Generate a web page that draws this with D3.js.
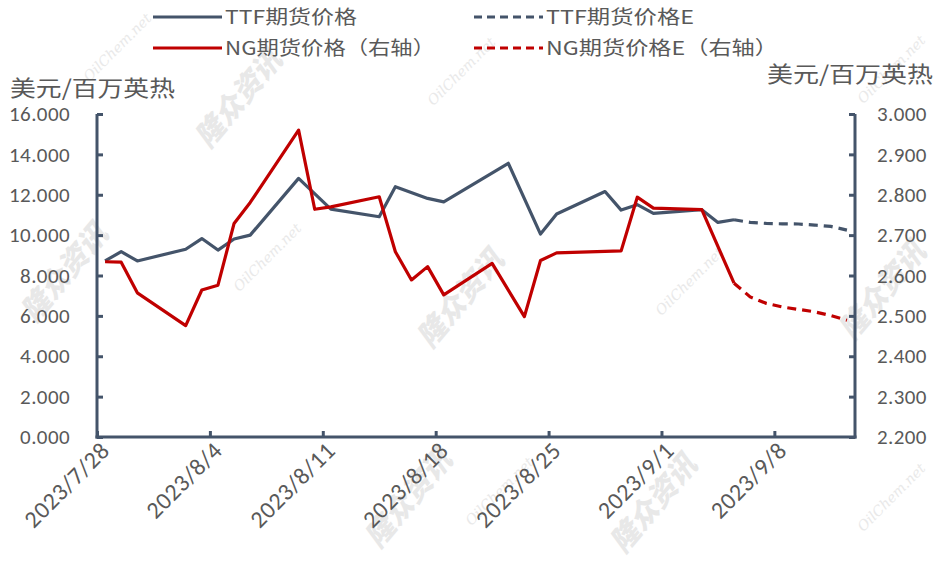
<!DOCTYPE html>
<html>
<head>
<meta charset="utf-8">
<script src="https://cdn.jsdelivr.net/npm/d3@7"></script>
<style>
  html, body { margin: 0; padding: 0; background: #ffffff; }
  svg { display: block; }
</style>
</head>
<body>
<svg id="chart" width="940" height="565"></svg>
<script>
// ---------------- data ----------------
const ttfDates = ["2023-07-28","2023-07-29","2023-07-30","2023-08-02","2023-08-03","2023-08-04","2023-08-05","2023-08-06",
  "2023-08-09","2023-08-11","2023-08-14","2023-08-15","2023-08-17","2023-08-18","2023-08-22","2023-08-24","2023-08-25",
  "2023-08-28","2023-08-29","2023-08-30","2023-08-31","2023-09-03","2023-09-04","2023-09-05"];
const ttfValues = [8.72, 9.18, 8.72, 9.30, 9.83, 9.26, 9.81, 10.00,
  12.81, 11.29, 10.91, 12.40, 11.82, 11.65, 13.56, 10.05, 11.05,
  12.16, 11.24, 11.51, 11.08, 11.26, 10.63, 10.76];

const ngDates = ["2023-07-28","2023-07-29","2023-07-30","2023-08-02","2023-08-03","2023-08-04","2023-08-05","2023-08-06",
  "2023-08-09","2023-08-10","2023-08-11","2023-08-14","2023-08-15","2023-08-16","2023-08-17","2023-08-18",
  "2023-08-21","2023-08-23","2023-08-24","2023-08-25","2023-08-29","2023-08-30","2023-08-31","2023-09-03","2023-09-05"];
const ngValues = [2.634, 2.633, 2.557, 2.476, 2.564, 2.576, 2.729, 2.781,
  2.960, 2.764, 2.770, 2.795, 2.659, 2.589, 2.622, 2.552,
  2.630, 2.498, 2.637, 2.656, 2.661, 2.794, 2.767, 2.763, 2.581];

const ttfEDates = ["2023-09-05","2023-09-06","2023-09-07","2023-09-08","2023-09-09","2023-09-10","2023-09-11","2023-09-12"];
const ttfEValues = [10.76, 10.63, 10.58, 10.56, 10.55, 10.50, 10.43, 10.25];

const ngEDates = ["2023-09-05","2023-09-06","2023-09-07","2023-09-08","2023-09-09","2023-09-10","2023-09-11","2023-09-12"];
const ngEValues = [2.581, 2.547, 2.531, 2.522, 2.516, 2.510, 2.501, 2.489];

const xTickDates = ["2023-07-28","2023-08-04","2023-08-11","2023-08-18","2023-08-25","2023-09-01","2023-09-08"];
const leftTicks = [0, 2, 4, 6, 8, 10, 12, 14, 16];
const rightTicks = [2.2, 2.3, 2.4, 2.5, 2.6, 2.7, 2.8, 2.9, 3.0];

const unitLabel = "美元/百万英热";
const legendNames = ["TTF期货价格", "TTF期货价格E", "NG期货价格（右轴）", "NG期货价格E（右轴）"];

// ---------------- setup ----------------
const axisColor = "#44546a";
const blue = "#44546a";
const red = "#c00000";
const textColor = "#595959";
const numFont = "Carlito, Lato, 'Noto Sans', sans-serif";
const cjkFont = "'Noto Sans CJK SC', 'Noto Sans', sans-serif";

const svg = d3.select("#chart");
const parse = d3.utcParse("%Y-%m-%d");
const mid = s => d3.utcHour.offset(parse(s), 12);

const pLeft = 97, pRight = 855, pTop = 114, pBottom = 437;

const x = d3.scaleUtc()
  .domain([parse("2023-07-28"), parse("2023-09-13")])
  .range([pLeft, pRight]);
const yL = d3.scaleLinear().domain([0, 16]).range([pBottom, pTop]);
const yR = d3.scaleLinear().domain([2.2, 3.0]).range([pBottom, pTop]);

// ---------------- watermarks ----------------
const wm = svg.append("g").attr("pointer-events", "none");
const wmCn = [[240, 100], [66, 274], [462, 300], [410, 500], [655, 505], [884, 292]];
wmCn.forEach(([cx, cy]) => {
  wm.append("text")
    .attr("transform", `translate(${cx},${cy}) rotate(-50)`)
    .attr("text-anchor", "middle").attr("dominant-baseline", "middle")
    .attr("font-family", cjkFont).attr("font-weight", 900).attr("font-style", "italic")
    .attr("font-size", 29).attr("fill", "#e8e8e8")
    .text("隆众资讯");
});
const wmEn = [[118, 48], [462, 72], [892, 70], [268, 258], [690, 282], [500, 492], [892, 498]];
wmEn.forEach(([cx, cy]) => {
  wm.append("text")
    .attr("transform", `translate(${cx},${cy}) rotate(-45)`)
    .attr("text-anchor", "middle").attr("dominant-baseline", "middle")
    .attr("font-family", "'DejaVu Serif', serif").attr("font-style", "italic")
    .attr("font-size", 14).attr("fill", "#e9e9e9")
    .text("OilChem.net");
});

// ---------------- axes ----------------
const gL = svg.append("g").attr("transform", `translate(${pLeft},0)`)
  .call(d3.axisLeft(yL).tickValues(leftTicks).tickFormat(d3.format(".3f")).tickSize(-6).tickPadding(27));
const gR = svg.append("g").attr("transform", `translate(${pRight},0)`)
  .call(d3.axisRight(yR).tickValues(rightTicks).tickFormat(d3.format(".3f")).tickSize(-6).tickPadding(22));
const gB = svg.append("g").attr("transform", `translate(0,${pBottom})`)
  .call(d3.axisBottom(x).tickValues(xTickDates.map(parse)).tickFormat(() => "").tickSize(-6));

[gL, gR, gB].forEach(g => {
  g.select(".domain").attr("stroke", axisColor).attr("stroke-width", 3);
  g.selectAll(".tick line").attr("stroke", axisColor).attr("stroke-width", 3);
  g.selectAll(".tick text").attr("fill", textColor).attr("font-family", numFont)
    .attr("font-size", 21).attr("letter-spacing", 0.4);
});
gL.select(".domain").attr("d", `M0,${pTop}V${pBottom + 1.5}`);
gR.select(".domain").attr("d", `M0,${pTop}V${pBottom + 1.5}`);
gB.select(".domain").attr("d", `M${pLeft - 1.5},0H${pRight + 1.5}`);

// rotated date labels
const fmtDate = d => `${d.getUTCFullYear()}/${d.getUTCMonth() + 1}/${d.getUTCDate()}`;
svg.append("g").selectAll("text")
  .data(xTickDates.map(parse))
  .join("text")
  .attr("transform", d => `translate(${x(d) + 14},${pBottom + 15}) rotate(-45)`)
  .attr("text-anchor", "end")
  .attr("fill", textColor)
  .attr("font-family", numFont)
  .attr("font-size", 24)
  .attr("letter-spacing", 0.6)
  .text(fmtDate);

// unit labels
svg.append("text").attr("x", 10).attr("y", 96)
  .attr("font-family", cjkFont).attr("font-size", 22).attr("fill", textColor)
  .attr("textLength", 165).attr("lengthAdjust", "spacingAndGlyphs")
  .text(unitLabel);
svg.append("text").attr("x", 767).attr("y", 82)
  .attr("font-family", cjkFont).attr("font-size", 22).attr("fill", textColor)
  .attr("textLength", 166).attr("lengthAdjust", "spacingAndGlyphs")
  .text(unitLabel);

// ---------------- lines ----------------
const lineL = d3.line().x(d => x(mid(d[0]))).y(d => yL(d[1]));
const lineR = d3.line().x(d => x(mid(d[0]))).y(d => yR(d[1]));
const plot = svg.append("g");

plot.append("path").datum(d3.zip(ttfEDates, ttfEValues)).attr("d", lineL)
  .attr("fill", "none").attr("stroke", blue).attr("stroke-width", 3.2).attr("stroke-dasharray", "9,6");
plot.append("path").datum(d3.zip(ngEDates, ngEValues)).attr("d", lineR)
  .attr("fill", "none").attr("stroke", red).attr("stroke-width", 3.2).attr("stroke-dasharray", "9,6");
plot.append("path").datum(d3.zip(ttfDates, ttfValues)).attr("d", lineL)
  .attr("fill", "none").attr("stroke", blue).attr("stroke-width", 3.2).attr("stroke-linejoin", "round");
plot.append("path").datum(d3.zip(ngDates, ngValues)).attr("d", lineR)
  .attr("fill", "none").attr("stroke", red).attr("stroke-width", 3.2).attr("stroke-linejoin", "round");

// ---------------- legend ----------------
const legendItems = [
  { name: legendNames[0], color: blue, dash: null, x: 153, y: 17, tw: 132 },
  { name: legendNames[1], color: blue, dash: "8,5", x: 474, y: 17, tw: 148 },
  { name: legendNames[2], color: red, dash: null, x: 153, y: 48, tw: 210 },
  { name: legendNames[3], color: red, dash: "8,5", x: 474, y: 48, tw: 232 }
];
const lg = svg.append("g");
legendItems.forEach(it => {
  lg.append("line").attr("x1", it.x).attr("x2", it.x + 69).attr("y1", it.y).attr("y2", it.y)
    .attr("stroke", it.color).attr("stroke-width", 3.2)
    .attr("stroke-dasharray", it.dash);
  lg.append("text").attr("x", it.x + 72).attr("y", it.y).attr("dy", "0.36em")
    .attr("font-family", cjkFont).attr("font-size", 19).attr("fill", textColor)
    .attr("textLength", it.tw).attr("lengthAdjust", "spacingAndGlyphs")
    .text(it.name);
});
</script>
</body>
</html>
